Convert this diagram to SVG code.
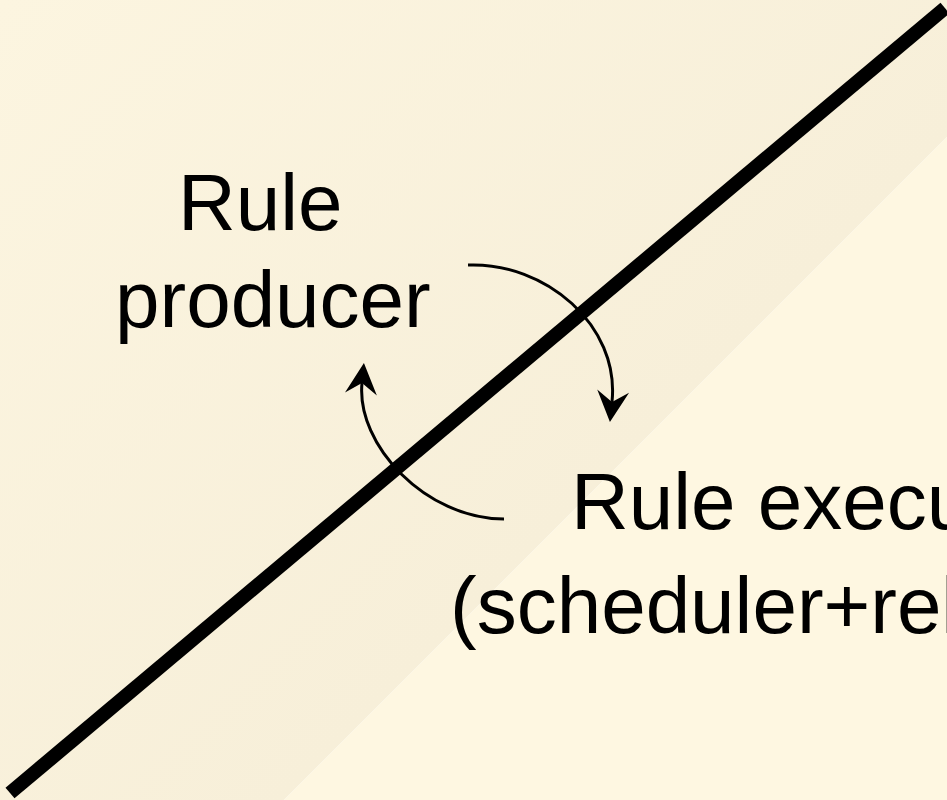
<svg xmlns="http://www.w3.org/2000/svg" width="947" height="800" viewBox="0 0 947 800">
  <defs>
    <linearGradient id="bg" x1="0" y1="0" x2="542" y2="542" gradientUnits="userSpaceOnUse">
      <stop offset="0" stop-color="#fcf5e0"/>
      <stop offset="1" stop-color="#f7efd9"/>
    </linearGradient>
    <marker id="head" markerUnits="userSpaceOnUse" viewBox="-32 -17 34 34" refX="-20" refY="0" markerWidth="34" markerHeight="34" orient="auto">
      <path d="M0,0 L-31,-16 L-20,0 L-31,16 Z" fill="#000"/>
    </marker>
    <style>
      .lbl { font-family: "Liberation Sans", Arial, sans-serif; font-size: 80px; fill: #000; }
      .arc { fill: none; stroke: #000; stroke-width: 3; marker-end: url(#head); }
      .divider { stroke: #000; stroke-width: 14; stroke-linecap: butt; }
    </style>
  </defs>
  <g id="background">
    <polygon points="0,0 947,0 947,137 137,947 0,947" fill="url(#bg)"/>
    <polygon points="947,137 947,800 284,800" fill="#fef7e1"/>
  </g>
  <g id="divider">
    <line class="divider" x1="10" y1="793" x2="945" y2="8"/>
  </g>
  <g id="connectors">
    <path class="arc" d="M468,265 C545,262 620,325 612,402"/>
    <path class="arc" d="M504,519 C426,519 356,445 362,383"/>
  </g>
  <g id="rule-producer">
    <text class="lbl" x="178" y="230">Rule</text>
    <text class="lbl" x="115" y="327">producer</text>
  </g>
  <g id="rule-executor">
    <text class="lbl" x="571" y="529">Rule execu</text>
    <text class="lbl" x="450" y="633">(scheduler+rel</text>
  </g>
</svg>
